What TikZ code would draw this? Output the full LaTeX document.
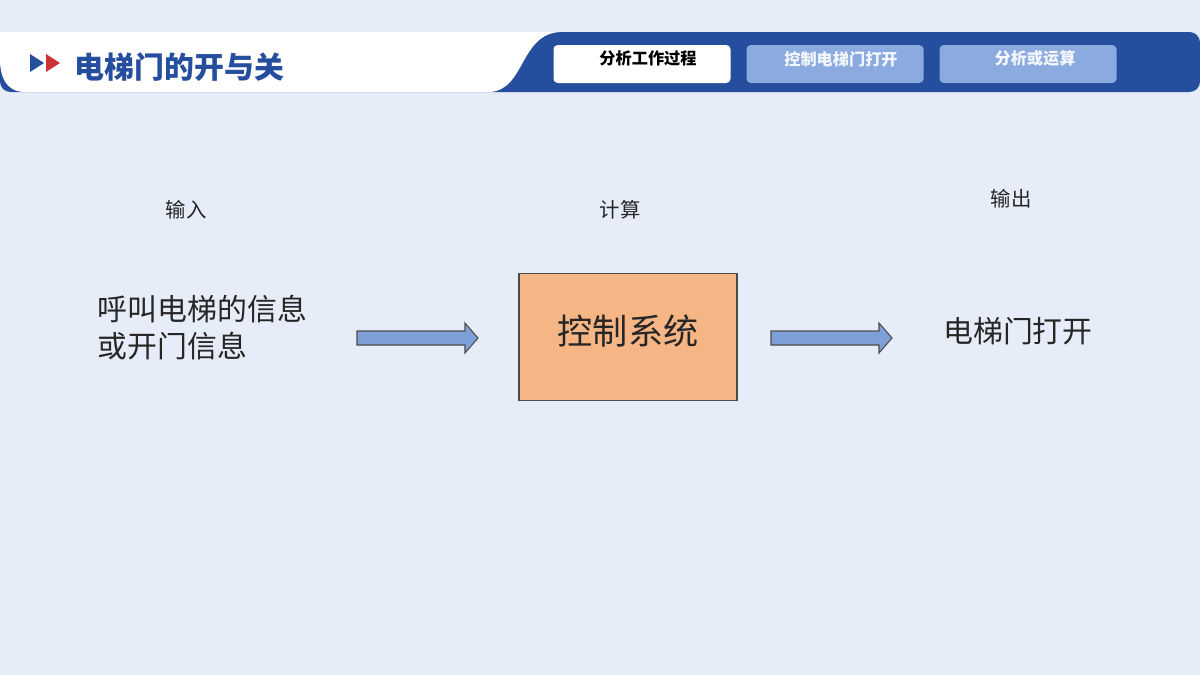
\documentclass[tikz,border=0pt]{standalone}
\usepackage{fontspec}
\newfontfamily\cjk{Noto Sans CJK SC}
\usetikzlibrary{positioning}
\definecolor{bg}{HTML}{E6ECF8}
\definecolor{band}{HTML}{254E9E}
\definecolor{tabc}{HTML}{8BABE0}
\definecolor{boxc}{HTML}{F5B584}
\definecolor{arr}{HTML}{7DA0D8}
\definecolor{txt}{HTML}{262626}
\begin{document}
\begin{tikzpicture}[x=0.01cm, y=-0.01cm, font=\cjk,
  tab/.style={rounded corners=1.2pt, minimum width=177*0.01cm, minimum height=38*0.01cm, inner sep=0pt},
  tabtxt/.style={font=\cjk\bfseries\fontsize{4.6}{6}\selectfont},
  lbl/.style={text=txt, font=\cjk\fontsize{5.8}{7}\selectfont},
  big/.style={text=txt, font=\cjk\fontsize{8.5}{10.5}\selectfont, align=left},
  blk/.style={draw=black!70, fill=arr, line width=0.3pt}]
\fill[bg] (0,0) rectangle (1200,675);
\useasboundingbox (0,0) rectangle (1200,675);
% header
\fill[band, rounded corners=3pt] (0,32) rectangle (1200,92);
\fill[white] (0,32) -- (560,32) .. controls (520,34) and (525,90) .. (490,92) -- (25,92) .. controls (5,92) and (0,75) .. (0,60) -- cycle;
\fill[band] (30,54) -- (44,63) -- (30,72) -- cycle;
\fill[red!75!black!80] (46,54) -- (60,63) -- (46,72) -- cycle;
\node[anchor=west, text=band, font=\cjk\bfseries\fontsize{8.5}{10}\selectfont, inner sep=0pt] (title) at (74,67) {电梯门的开与关};
\node[tab, fill=white] (t1) at (642,64) {};
\node[tabtxt] (t1text) at (648,58) {分析工作过程};
\node[tab, fill=tabc] (t2) at (835,64) {};
\node[tabtxt, text=white!90!tabc] (t2text) at (841,59) {控制电梯门打开};
\node[tab, fill=tabc] (t3) at (1028,64) {};
\node[tabtxt, text=white!90!tabc] (t3text) at (1035,58) {分析或运算};
% labels
\node[lbl] (in) at (186,210) {输入};
\node[lbl] (calc) at (620,210) {计算};
\node[lbl] (out) at (1011,199) {输出};
% content
\node[big, anchor=west, inner sep=0pt] (msg) at (97,328) {呼叫电梯的信息\\或开门信息};
\node[draw=black!70, fill=boxc, line width=0.4pt, minimum width=218*0.01cm, minimum height=127*0.01cm] (sys) at (628,337) {};
\node[text=txt, font=\cjk\fontsize{10}{12}\selectfont] (systext) at (628,331) {控制系统};
\node[big] (door) at (1018,331) {电梯门打开};
\draw[blk] (357,331) -- (465,331) -- (465,323) -- (478,338) -- (465,353) -- (465,345) -- (357,345) -- cycle;
\draw[blk] (771,331) -- (879,331) -- (879,323) -- (892,338) -- (879,353) -- (879,345) -- (771,345) -- cycle;
\end{tikzpicture}
\end{document}
